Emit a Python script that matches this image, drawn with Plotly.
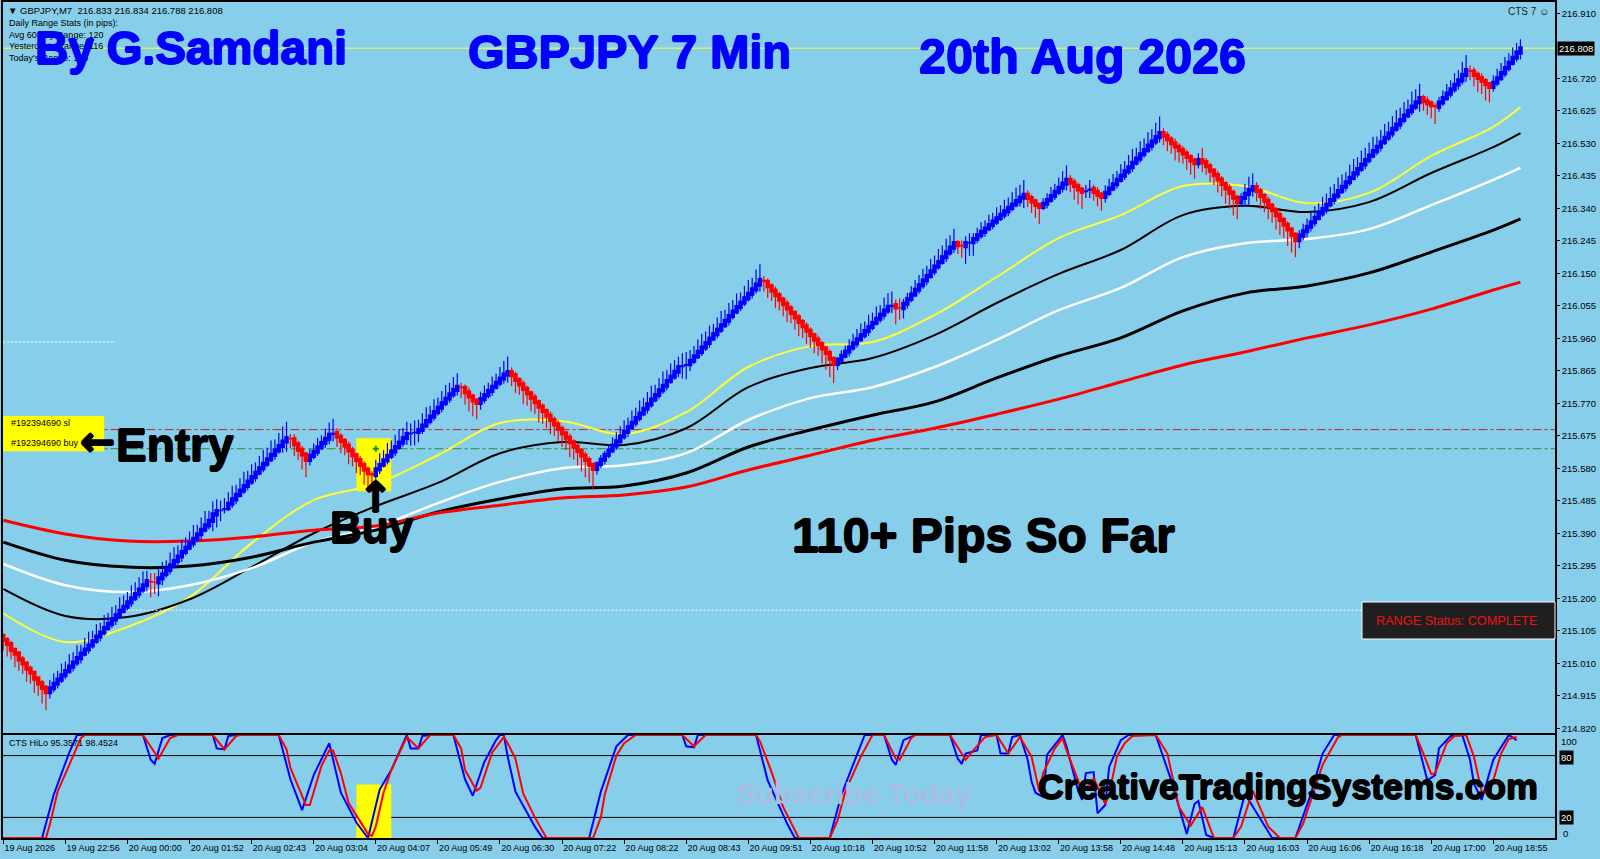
import plotly.graph_objects as go

# 7 minute GBPJPY bars, close, one value per bar
closes = [
    215.078,215.066,215.049,215.038,215.021,215.009,214.994,214.982,214.965,214.951,214.938,214.925,
    214.937,214.950,214.962,214.975,214.987,215.000,215.012,215.025,215.038,215.050,215.062,215.075,215.088,215.100,
    215.113,215.125,215.138,215.150,215.163,215.175,215.188,215.200,215.213,215.225,215.238,215.250,
    215.247,215.246,215.258,215.270,215.283,215.296,215.309,215.322,215.335,215.348,215.361,215.374,215.387,215.400,215.413,215.426,
    215.445,215.455,215.458,215.463,215.476,215.489,215.502,215.515,215.528,215.541,215.554,215.567,215.580,215.593,215.606,215.619,215.632,215.645,215.658,215.668,
    215.665,215.650,215.634,215.620,215.604,
    215.616,215.628,215.641,215.654,215.666,215.678,215.683,
    215.672,215.660,215.646,215.632,215.618,215.604,215.590,215.576,215.565,215.560,
    215.577,215.590,215.603,215.616,215.629,215.642,215.655,215.668,215.680,215.683,215.686,215.692,
    215.705,215.718,215.731,215.744,215.757,215.770,215.783,215.796,215.809,215.818,
    215.815,215.802,215.790,215.778,215.771,
    215.782,215.794,215.806,215.818,215.830,215.842,215.854,215.861,
    215.852,215.838,215.825,215.812,215.799,215.786,215.773,215.760,215.747,215.734,215.721,215.708,215.695,215.682,215.669,215.656,215.643,215.630,215.617,215.604,215.590,215.578,
    215.592,215.605,215.619,215.632,215.646,215.659,215.673,215.686,215.700,215.713,215.727,215.740,215.754,215.767,215.781,215.794,215.808,215.821,215.835,215.848,215.862,215.876,
    215.880,215.884,215.894,
    215.907,215.920,215.933,215.946,215.959,215.972,215.985,215.998,216.011,216.025,216.038,216.051,216.064,216.077,216.090,216.103,216.117,216.130,
    216.125,216.112,216.099,216.086,216.073,216.060,216.047,216.034,216.021,216.008,215.995,215.982,215.969,215.956,215.943,215.930,215.917,215.900,215.885,
    215.897,215.909,215.921,215.933,215.945,215.957,215.969,215.981,215.993,216.005,216.017,216.029,216.041,216.052,216.057,
    216.050,216.048,
    216.061,216.075,216.088,216.102,216.115,216.129,216.142,216.156,216.170,216.183,216.197,216.211,216.225,216.238,
    216.232,216.229,216.238,216.241,
    216.250,216.261,216.271,216.281,216.291,216.301,216.311,216.321,216.331,216.341,216.351,216.361,216.371,216.379,
    216.370,216.360,216.350,216.344,
    216.353,216.364,216.376,216.388,216.400,216.412,216.423,
    216.415,216.405,216.395,216.388,
    216.392,216.397,
    216.388,216.380,216.373,
    216.385,216.398,216.410,216.423,216.435,216.448,216.460,216.473,216.485,216.498,216.510,216.523,216.535,216.548,216.560,
    216.552,216.541,216.530,216.520,216.510,216.500,216.490,216.480,216.472,
    216.481,216.475,
    216.463,216.450,216.437,216.424,216.411,216.398,216.385,216.371,216.358,
    216.370,216.382,216.394,216.402,
    216.390,216.376,216.362,216.348,216.334,216.320,216.306,216.292,216.278,216.263,216.247,
    216.260,216.273,216.286,216.299,216.312,216.325,216.338,216.351,216.364,216.377,216.390,216.403,216.416,216.429,216.442,216.455,
    216.468,216.481,216.494,216.507,216.520,216.533,216.546,216.559,216.572,216.585,216.598,216.611,216.624,216.637,216.650,216.662,
    216.653,216.647,216.641,216.636,
    216.649,216.662,216.675,216.688,216.701,216.714,216.730,216.744,
    216.740,216.730,216.721,216.712,216.703,216.695,
    216.707,216.720,216.735,216.750,216.765,216.780,216.795,216.808,
]

# wick lengths past the body, in 1/1000 yen
wick_up = [
    6,8,10,6,8,10,7,9,6,8,10,8,24,30,26,34,
    28,36,30,38,26,34,40,30,36,28,38,32,36,30,40,34,
    30,38,34,36,40,30,24,26,30,36,28,38,40,32,36,30,
    34,40,28,36,42,30,38,34,28,30,34,40,30,36,42,32,
    38,30,36,40,34,42,32,38,44,48,12,14,10,12,8,20,
    24,28,22,30,36,42,14,10,8,12,10,8,12,10,8,6,
    28,34,30,38,32,36,40,30,36,28,34,30,36,40,32,38,
    30,36,40,34,38,40,12,10,14,8,6,22,28,24,30,26,
    34,40,46,14,10,8,12,10,8,12,8,10,8,12,10,12,
    10,8,12,8,10,8,12,10,6,8,14,12,18,24,26,30,
    34,28,36,30,38,32,36,40,30,36,42,32,38,34,30,36,
    36,32,30,36,40,34,38,30,36,42,32,38,34,40,30,36,
    40,34,44,46,12,10,8,12,10,8,12,10,8,10,8,12,
    10,8,12,10,8,10,6,8,16,18,24,28,30,34,28,36,
    30,36,28,38,40,40,16,26,14,18,24,28,30,34,30,36,
    32,38,34,40,36,42,10,14,20,26,18,22,28,24,30,26,
    32,28,34,30,36,40,38,44,14,10,8,6,16,20,26,24,
    30,36,42,14,12,10,8,16,26,12,14,8,22,28,30,26,
    34,30,36,40,32,38,34,40,36,42,48,14,12,10,14,10,
    12,10,8,8,20,36,12,10,8,12,10,8,12,10,8,14,
    30,38,40,14,10,8,12,8,10,12,8,10,8,6,16,22,
    24,28,34,30,36,32,38,34,40,36,30,38,42,34,40,36,
    38,42,30,36,40,34,38,42,36,40,34,44,38,42,10,14,
    8,6,16,22,28,26,34,30,38,44,14,12,10,14,8,6,
    22,28,30,32,28,30,28,26,
]
wick_dn = [
    30,36,28,40,34,30,38,32,42,36,46,52,18,12,14,10,
    12,8,14,10,16,8,12,10,8,14,10,8,12,16,10,8,
    10,14,8,12,10,18,44,34,40,20,10,14,8,12,16,10,
    8,12,10,16,8,12,30,38,30,10,8,12,14,8,10,12,
    10,14,8,12,10,8,14,10,20,30,26,34,30,44,50,16,
    10,12,8,14,16,20,30,36,28,40,32,38,30,44,46,50,
    26,14,8,12,10,14,8,12,20,34,36,30,12,8,10,12,
    10,14,8,12,10,16,30,36,44,46,48,20,12,10,14,8,
    10,14,24,32,38,30,44,36,40,34,46,38,36,42,34,38,
    40,36,44,38,42,46,50,52,60,16,12,14,10,8,12,8,
    10,14,8,12,10,8,14,10,8,12,10,14,8,10,16,34,
    40,20,10,8,12,10,14,8,12,10,8,14,10,8,12,10,
    10,14,12,20,28,34,30,38,32,36,40,30,36,42,34,38,
    36,40,34,44,48,54,56,18,12,8,14,10,12,8,10,14,
    10,8,12,14,10,18,50,34,30,14,10,8,12,10,14,8,
    12,10,8,14,10,16,26,34,52,38,40,12,10,14,8,12,
    10,8,12,14,10,8,16,30,26,34,38,50,10,14,8,12,
    10,14,20,28,40,44,50,18,22,26,34,40,16,10,8,12,
    8,12,10,14,8,12,10,8,14,10,16,28,34,30,40,36,
    30,38,42,46,16,30,26,34,30,38,36,44,46,52,50,14,
    24,34,20,30,38,34,40,36,42,44,38,48,52,50,24,14,
    18,14,12,8,10,14,8,12,10,8,14,10,8,12,10,14,
    10,8,12,14,8,10,12,8,14,10,8,12,10,28,28,34,
    38,50,14,10,8,12,10,14,12,20,26,34,42,38,48,46,
    14,10,8,12,10,8,12,20,
]

# moving averages, read at these bars
ma_bars = [0,16,32,48,64,80,96,112,128,144,160,176,192,208,224,240,256,272,288,304,320,336,352,368,384,391]
ma_yellow = [215.156,215.072,215.116,215.203,215.361,215.487,215.534,215.618,215.712,215.718,215.680,215.744,215.876,
             215.937,215.949,216.028,216.139,216.253,216.320,216.405,216.405,216.355,216.385,216.493,216.578,216.636]
ma_black_thin = [215.227,215.148,215.145,215.197,215.291,215.390,215.469,215.537,215.624,215.657,215.648,215.697,215.817,
                 215.873,215.902,215.969,216.063,216.148,216.218,216.320,216.347,216.329,216.358,216.443,216.519,216.560]
ma_white = [215.300,215.238,215.218,215.238,215.288,215.364,215.408,215.478,215.540,215.580,215.589,215.624,215.721,
            215.785,215.817,215.876,215.955,216.042,216.107,216.197,216.238,216.250,216.279,216.349,216.423,216.458]
ma_black_thick = [215.364,215.311,215.291,215.294,215.320,215.364,215.399,215.452,215.490,215.519,215.528,215.566,215.642,
                  215.692,215.735,215.774,215.844,215.908,215.961,216.040,216.092,216.113,216.151,216.212,216.276,216.309]
ma_red = [215.428,215.388,215.367,215.367,215.379,215.399,215.411,215.449,215.472,215.493,215.502,215.525,215.575,
          215.618,215.662,215.697,215.738,215.782,215.832,215.882,215.920,215.961,215.999,216.045,216.101,216.124]

# CTS HiLo oscillator, turning points only
hilo_blue_bars = [0,10,13,17,19,36,38,39,41,43,54,55,57,58,60,71,74,77,80,84,87,91,94,97,100,104,105,107,108,110,116,119,121,124,127,
                  128,129,130,132,137,139,151,154,158,161,175,176,178,179,194,197,202,204,213,216,221,222,227,229,230,232,235,244,246,247,248,
                  251,252,256,257,259,260,262,264,265,266,268,269,273,274,277,278,279,281,282,284,285,288,290,297,301,305,307,308,310,312,317,
                  320,324,327,333,337,340,343,364,367,369,370,373,376,378,379,381,384,388,390]
hilo_blue = [0,0,42,83,100,100,76,72,97,100,100,87,86,99,100,100,57,27,61,92,44,15,0,47,66,100,87,87,99,100,100,57,41,74,95,
             100,100,79,45,11,0,0,45,89,100,100,89,88,100,100,56,14,0,0,42,89,100,100,76,71,95,100,100,77,72,82,
             85,100,100,82,82,98,100,76,55,44,40,81,100,89,46,37,63,64,24,32,69,95,100,100,56,4,33,36,3,0,0,
             43,19,0,0,43,82,100,100,56,61,87,99,100,76,53,37,76,100,95]
hilo_red_bars = [0,11,12,14,17,20,21,36,39,40,43,45,54,57,60,61,71,73,74,78,79,82,84,85,87,89,94,95,96,98,100,104,107,110,116,118,119,122,123,126,
                 129,130,132,134,137,140,152,154,155,158,160,163,175,178,181,194,195,198,201,205,213,215,217,221,224,227,230,231,234,235,244,248,
                 250,253,256,259,262,265,267,268,271,273,274,277,278,281,284,285,287,289,291,297,300,303,306,309,312,317,319,322,326,329,333,335,
                 340,344,345,364,366,368,369,372,374,377,379,381,383,386,388,390]
hilo_red = [0,0,13,45,71,97,100,100,83,77,97,100,100,86,99,100,100,86,68,32,32,70,85,85,63,34,4,2,11,44,66,98,87,100,100,87,66,46,49,83,
            98,92,77,43,20,0,0,20,42,80,92,100,100,89,100,100,94,64,30,0,0,17,45,79,100,100,77,76,97,100,100,76,
            85,98,100,82,98,79,45,63,87,97,85,56,43,58,33,43,79,92,99,100,82,30,12,30,0,0,11,46,11,0,0,14,
            71,98,100,100,82,62,63,92,99,100,79,45,43,82,96,98]

time_ticks = list(range(0, 385, 16))
time_labels = ["19 Aug 2026","19 Aug 22:56","20 Aug 00:00","20 Aug 01:52","20 Aug 02:43","20 Aug 03:04","20 Aug 04:07",
               "20 Aug 05:49","20 Aug 06:30","20 Aug 07:22","20 Aug 08:22","20 Aug 08:43","20 Aug 09:51","20 Aug 10:18",
               "20 Aug 10:52","20 Aug 11:58","20 Aug 13:02","20 Aug 13:58","20 Aug 14:48","20 Aug 15:13","20 Aug 16:03",
               "20 Aug 16:06","20 Aug 16:18","20 Aug 17:00","20 Aug 18:55"]
price_ticks = [216.910,216.720,216.625,216.530,216.435,216.340,216.245,216.150,216.055,215.960,215.865,215.770,215.675,
               215.580,215.485,215.390,215.295,215.200,215.105,215.010,214.915,214.820]

last_price = 216.808
sl_price = 215.693
entry_price = 215.637

assert len(closes) == len(wick_up) == len(wick_dn), (len(closes), len(wick_up), len(wick_dn))
assert len(hilo_blue_bars) == len(hilo_blue), (len(hilo_blue_bars), len(hilo_blue))
assert len(hilo_red_bars) == len(hilo_red), (len(hilo_red_bars), len(hilo_red))

bars = list(range(len(closes)))
opens = [closes[0] + 0.012] + closes[:-1]
highs = [max(o, c) + u / 1000 for o, c, u in zip(opens, closes, wick_up)]
lows = [min(o, c) - d / 1000 for o, c, d in zip(opens, closes, wick_dn)]

SKY = "#87CEEB"
BLUE = "#0000ff"
RED = "#ff0000"
W = 1600
H = 859
SANS = "Liberation Sans"

fig = go.Figure()

for vals, color, width in [(ma_yellow, "#ffff33", 2), (ma_black_thin, "#000000", 2), (ma_white, "#ffffff", 2.5),
                           (ma_black_thick, "#000000", 3), (ma_red, RED, 3)]:
    fig.add_trace(go.Scatter(x=ma_bars, y=vals, mode="lines", xaxis="x", yaxis="y", showlegend=False,
                             line=dict(color=color, width=width, shape="spline", smoothing=1.0)))

# white dotted range lines
fig.add_trace(go.Scatter(x=[0, 29], y=[215.949, 215.949], mode="lines", xaxis="x", yaxis="y", showlegend=False,
                          line=dict(color="#ffffff", width=1, dash="2px,2px")))
fig.add_trace(go.Scatter(x=[31, 350], y=[215.165, 215.165], mode="lines", xaxis="x", yaxis="y", showlegend=False,
                          line=dict(color="#ffffff", width=1, dash="2px,2px")))

# price bars go on top of the averages, so wicks and bodies are line segments
for color, up_bar in [(BLUE, True), (RED, False)]:
    wx, wy, bx, by = [], [], [], []
    for i in bars:
        if (closes[i] >= opens[i]) != up_bar:
            continue
        lo_body = min(opens[i], closes[i])
        hi_body = max(opens[i], closes[i])
        pad = 0.006 if hi_body - lo_body > 0.006 else 0.001
        wx += [i, i, None]
        wy += [lows[i], highs[i], None]
        bx += [i, i, None]
        by += [lo_body - pad, hi_body + pad, None]
    fig.add_trace(go.Scatter(x=wx, y=wy, mode="lines", xaxis="x", yaxis="y", showlegend=False,
                             line=dict(color=color, width=1.2)))
    fig.add_trace(go.Scatter(x=bx, y=by, mode="lines", xaxis="x", yaxis="y", showlegend=False,
                             line=dict(color=color, width=4.5)))

fig.add_trace(go.Scatter(x=[96], y=[entry_price], mode="markers", xaxis="x", yaxis="y", showlegend=False,
                         marker=dict(symbol="cross", size=5, color="#1e8c3c")))

fig.add_trace(go.Scatter(x=hilo_blue_bars, y=hilo_blue, mode="lines", xaxis="x2", yaxis="y2", showlegend=False,
                         line=dict(color=BLUE, width=2)))
fig.add_trace(go.Scatter(x=hilo_red_bars, y=hilo_red, mode="lines", xaxis="x2", yaxis="y2", showlegend=False,
                         line=dict(color=RED, width=2)))

shapes = [
    dict(type="rect", xref="x", yref="y", x0=-1, x1=26, y0=215.630, y1=215.733, fillcolor="#ffff00", line_width=0, layer="below"),
    dict(type="rect", xref="x", yref="y", x0=91, x1=100, y0=215.513, y1=215.668, fillcolor="#ffff00", line_width=0, layer="below"),
    dict(type="rect", xref="x2", yref="y2", x0=91, x1=100, y0=0, y1=52, fillcolor="#ffff00", line_width=0, layer="below"),
    dict(type="line", xref="x domain", yref="y", x0=0, x1=1, y0=last_price, y1=last_price, line=dict(color="#ffff33", width=1), layer="below"),
    dict(type="line", xref="x domain", yref="y", x0=0, x1=1, y0=sl_price, y1=sl_price, line=dict(color="#cc2222", width=1, dash="dashdot"), layer="below"),
    dict(type="line", xref="x domain", yref="y", x0=0, x1=1, y0=entry_price, y1=entry_price, line=dict(color="#2e8b3c", width=1, dash="dashdot"), layer="below"),
    dict(type="line", xref="x2 domain", yref="y2", x0=0, x1=1, y0=80, y1=80, line=dict(color="#000000", width=1), layer="below"),
    dict(type="line", xref="x2 domain", yref="y2", x0=0, x1=1, y0=20, y1=20, line=dict(color="#000000", width=1), layer="below"),
    dict(type="rect", xref="paper", yref="paper", x0=1362 / W, x1=1555 / W, y0=1 - 639 / H, y1=1 - 602 / H,
         fillcolor="#1f1f1f", line=dict(color="#ffffff", width=1)),
]


def label(text, x, y, size, color="#000000", anchor="left", bold=False, family=SANS, heavy=0, **kw):
    # x and y are page pixels, y counted from the top
    font = dict(family=family, size=size, color=color, weight=700 if bold else 400)
    if heavy:
        s = f"{heavy}px"
        font["shadow"] = f"{s} 0 0 {color}, -{s} 0 0 {color}, 0 {s} 0 {color}, 0 -{s} 0 {color}"
    return dict(text=text, x=x / W, y=1 - y / H, xref="paper", yref="paper", showarrow=False, xanchor=anchor,
                yanchor="middle", font=font, **kw)


annotations = [
    label("\u25bc GBPJPY,M7  216.833 216.834 216.788 216.808", 6, 10, 9.5),
    label("Daily Range Stats (in pips):", 7, 23, 9),
    label("Avg 60-day Range: 120", 7, 35, 9),
    label("Yesterday's Range: 116", 7, 46, 9),
    label("Today's Range: 165", 7, 58, 9),
    label("By G.Samdani", 33, 48, 46, BLUE, bold=True, heavy=0.8),
    label("GBPJPY 7 Min", 466, 52, 47, BLUE, bold=True, heavy=0.8),
    label("20th Aug 2026", 917, 56, 48.5, BLUE, bold=True, heavy=0.8),
    label("CTS 7 \u263a", 1551, 11, 10, "#222222", anchor="right"),
    label("#192394690 sl", 9, 423, 9),
    label("#192394690 buy", 9, 443, 9),
    label("Entry", 114, 445, 46, bold=True, heavy=0.8),
    label("Buy", 328, 527, 44, bold=True, heavy=0.8),
    label("110+ Pips So Far", 790, 535, 48, bold=True, heavy=0.8),
    label("Subscribe Today", 734, 793, 29.5, "#a9bde2", bold=True),
    label("CreativeTradingSystems.com", 1036, 787, 35.7, bold=True, heavy=0.8),
    label("CTS HiLo 95.3571 98.4524", 7, 743, 9),
    label("RANGE Status: COMPLETE", 1374, 621, 12.7, "#ee1111"),
    label("100", 1559, 741, 9.5),
    label("80", 1559, 757, 9.5, "#ffffff", bgcolor="#000000"),
    label("20", 1559, 817, 9.5, "#ffffff", bgcolor="#000000"),
    label("0", 1561, 833, 9.5),
    dict(text=f"{last_price:.3f}", x=1557 / W, y=last_price, xref="paper", yref="y", showarrow=False, xanchor="left",
         yanchor="middle", bgcolor="#000000", font=dict(family=SANS, size=9.5, color="#ffffff")),
    label("\u2190", 97, 441, 42, bold=True, family="DejaVu Sans", anchor="center", heavy=1),
    label("\u2191", 375, 497, 42, bold=True, family="DejaVu Sans", anchor="center", heavy=1),
]

fig.update_layout(
    width=W, height=H, margin=dict(l=0, r=0, t=0, b=0), autosize=False,
    paper_bgcolor=SKY, plot_bgcolor=SKY, showlegend=False,
    font=dict(family=SANS, size=9.5, color="#000000"),
    shapes=shapes, annotations=annotations,
    xaxis=dict(domain=[2.5 / W, 1555 / W], range=[-0.2, 399.9], anchor="y", showticklabels=False, ticks="",
               showgrid=False, zeroline=False, showline=True, mirror=True, linecolor="#000000", linewidth=1.5),
    yaxis=dict(domain=[1 - 733 / H, 1 - 2 / H], range=[214.806, 216.943], anchor="x", side="right",
               tickvals=price_ticks, ticktext=[f"{p:.3f}" for p in price_ticks], ticks="outside", ticklen=3,
               tickcolor="#000000", showgrid=False, zeroline=False, showline=True, mirror=True,
               linecolor="#000000", linewidth=1.5, tickfont=dict(size=9.5)),
    xaxis2=dict(domain=[2.5 / W, 1555 / W], range=[-0.2, 399.9], anchor="y2", tickvals=time_ticks, ticktext=time_labels,
                ticks="outside", ticklen=4, tickcolor="#000000", ticklabelposition="outside right",
                showgrid=False, zeroline=False, showline=True, mirror=True, linecolor="#000000", linewidth=1.5,
                tickfont=dict(size=9), tickangle=0),
    yaxis2=dict(domain=[1 - 838 / H, 1 - 735 / H], range=[0, 100], anchor="x2", side="right", showticklabels=False,
                ticks="", showgrid=False, zeroline=False, showline=True, mirror=True, linecolor="#000000", linewidth=1.5),
)

fig.write_html("out.html", config={"displayModeBar": False},
               post_script="document.body.style.margin='0';document.body.style.overflow='hidden';")
